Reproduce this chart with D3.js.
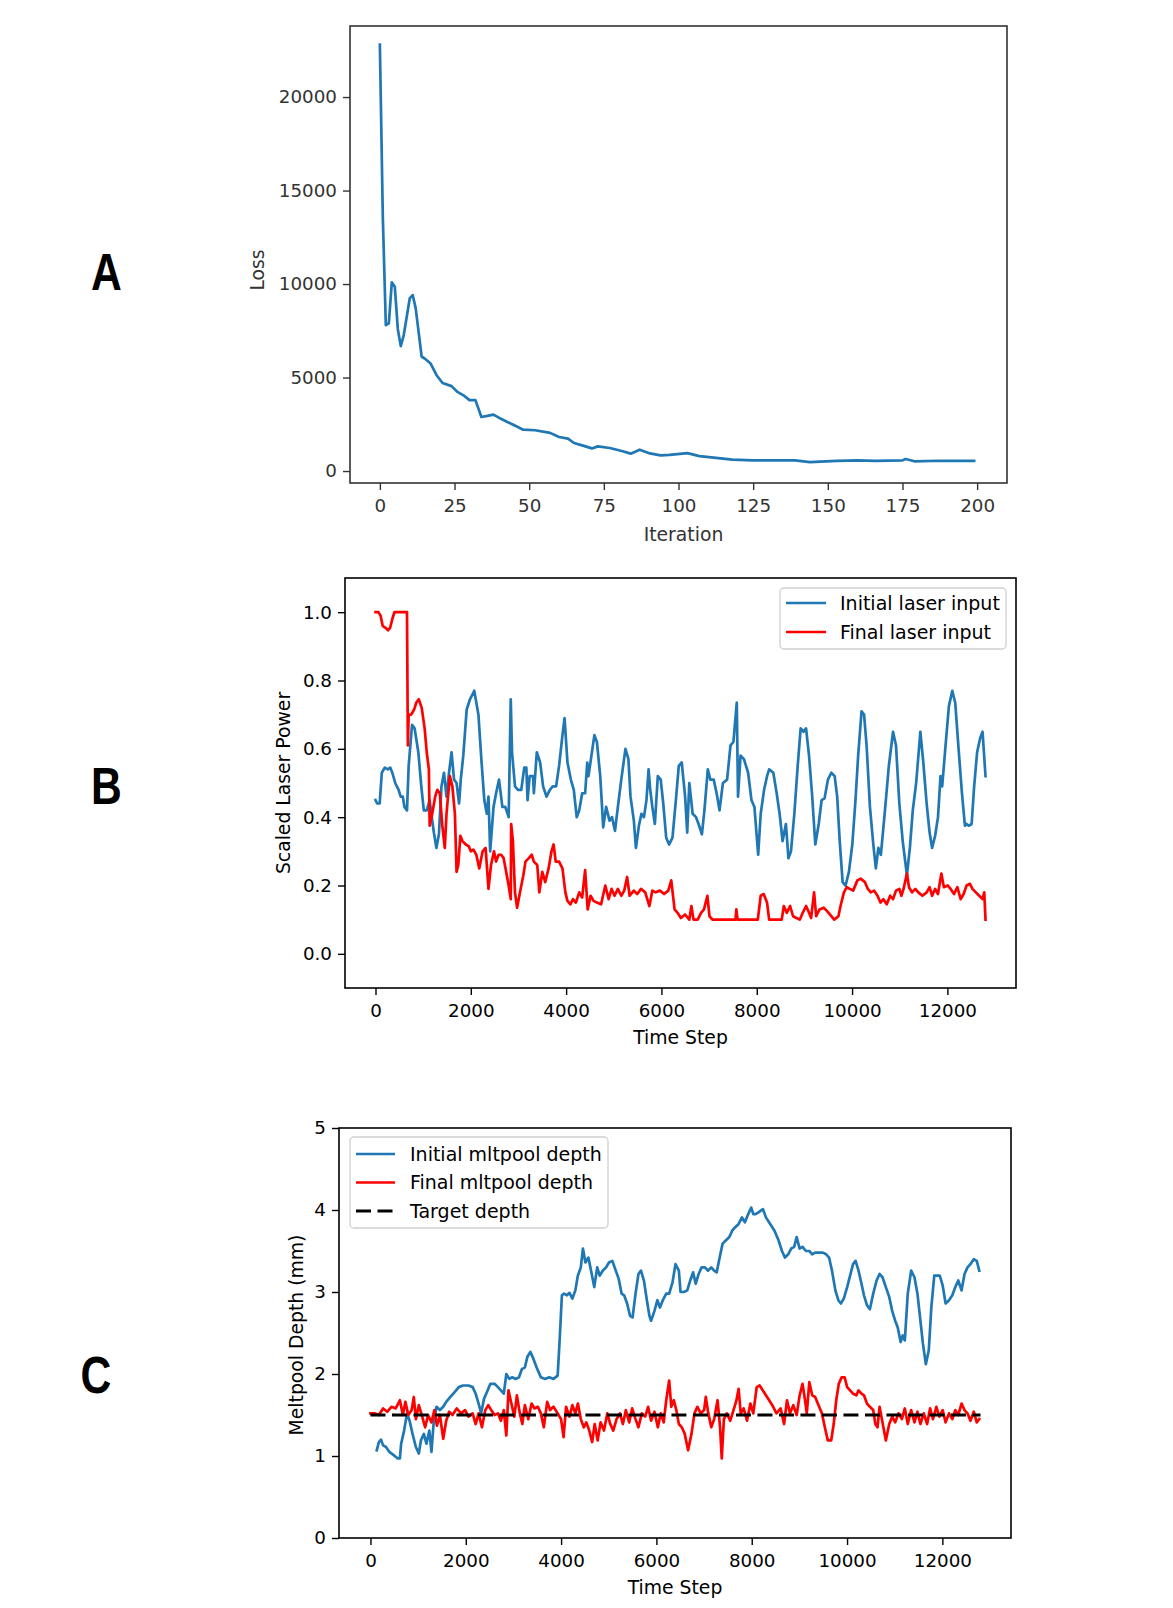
<!DOCTYPE html>
<html><head><meta charset="utf-8">
<script src="https://cdn.jsdelivr.net/npm/d3@7"></script>
<style>html,body{margin:0;padding:0;background:#fff;}svg{display:block;}</style>
</head><body><svg id="fig" width="1173" height="1608"></svg>
<script>
// ---------- DATA ----------
const lossIter = [0,1,2,3,4,5,6,7,8,10,11,12,14,15,17,19,21,24,26,28,30,32,34,36,38,40,45,48,52,57,60,63,65,68,71,73,77,81,84,87,90,94,97,103,107,111,118,125,132,139,144,153,160,166,175,176,179,187,194,199];
const lossVals = [22800,13500,7800,7900,10090,9860,7600,6680,7270,9230,9410,8700,6110,6020,5750,5125,4710,4540,4230,4050,3790,3790,2890,2950,3020,2840,2450,2210,2180,2040,1820,1730,1500,1360,1210,1320,1230,1070,930,1140,960,840,860,960,800,730,610,570,570,570,480,540,570,540,570,640,520,550,540,540];
const lossXTicks = [0,25,50,75,100,125,150,175,200];
const lossYTicks = [0,5000,10000,15000,20000];

const bInitT = [0,35,88,132,194,256,309,353,414,485,529,573,608,661,696,767,820,899,961,1014,1075,1137,1190,1225,1278,1331,1384,1437,1490,1543,1596,1648,1701,1754,1789,1842,1913,1983,2072,2160,2221,2283,2336,2371,2406,2477,2530,2592,2662,2724,2794,2838,2865,2927,2988,3059,3121,3165,3191,3235,3306,3323,3385,3455,3517,3588,3658,3720,3790,3852,3923,3967,4028,4099,4161,4222,4275,4337,4399,4443,4469,4531,4593,4646,4716,4778,4839,4910,4963,5025,5086,5157,5245,5307,5351,5421,5465,5527,5580,5633,5686,5730,5765,5809,5862,5924,5985,6038,6100,6162,6232,6303,6364,6426,6497,6541,6585,6655,6726,6779,6849,6902,6973,7026,7096,7158,7219,7290,7378,7449,7510,7581,7607,7660,7731,7819,7889,7951,8030,8083,8154,8216,8260,8348,8418,8480,8542,8612,8665,8718,8789,8859,8921,8983,9035,9097,9159,9229,9300,9361,9423,9494,9564,9635,9688,9741,9802,9864,9934,10005,10067,10128,10199,10252,10305,10375,10446,10499,10552,10604,10684,10772,10860,10922,10992,11063,11151,11213,11274,11345,11433,11495,11565,11627,11680,11742,11803,11856,11891,11962,12032,12103,12165,12235,12306,12368,12403,12447,12509,12562,12624,12686,12738,12800];
const bInitV = [0.45,0.44,0.44,0.53,0.545,0.54,0.545,0.53,0.50,0.48,0.46,0.46,0.43,0.42,0.55,0.67,0.66,0.59,0.49,0.42,0.42,0.45,0.39,0.355,0.31,0.35,0.49,0.53,0.46,0.53,0.59,0.51,0.50,0.44,0.51,0.58,0.715,0.745,0.77,0.70,0.57,0.45,0.41,0.46,0.30,0.43,0.47,0.51,0.43,0.43,0.40,0.745,0.59,0.49,0.48,0.48,0.545,0.545,0.45,0.52,0.52,0.47,0.59,0.56,0.49,0.46,0.48,0.49,0.49,0.55,0.64,0.69,0.56,0.51,0.48,0.40,0.42,0.47,0.47,0.56,0.52,0.58,0.64,0.62,0.52,0.37,0.43,0.39,0.40,0.36,0.43,0.51,0.60,0.57,0.46,0.39,0.31,0.375,0.41,0.40,0.45,0.54,0.48,0.43,0.38,0.52,0.51,0.44,0.34,0.32,0.34,0.45,0.55,0.56,0.46,0.355,0.50,0.41,0.40,0.38,0.35,0.42,0.54,0.51,0.51,0.47,0.42,0.50,0.51,0.61,0.62,0.735,0.46,0.58,0.57,0.53,0.45,0.43,0.29,0.41,0.48,0.52,0.54,0.53,0.47,0.41,0.33,0.38,0.28,0.30,0.41,0.55,0.66,0.65,0.66,0.58,0.47,0.32,0.38,0.45,0.455,0.51,0.53,0.52,0.46,0.33,0.21,0.20,0.24,0.32,0.44,0.58,0.71,0.70,0.61,0.43,0.32,0.25,0.31,0.29,0.41,0.55,0.65,0.61,0.44,0.33,0.23,0.31,0.42,0.50,0.65,0.56,0.44,0.355,0.31,0.345,0.40,0.52,0.49,0.61,0.725,0.77,0.735,0.60,0.47,0.375,0.38,0.375,0.38,0.49,0.59,0.63,0.65,0.52];
const bFinalT = [0,62,106,150,203,264,309,353,397,661,679,696,749,811,855,908,970,1031,1075,1120,1137,1190,1252,1296,1349,1402,1454,1490,1560,1613,1666,1701,1737,1781,1825,1895,1957,2001,2054,2116,2177,2248,2310,2371,2424,2486,2530,2583,2636,2689,2741,2794,2838,2847,2883,2927,2971,3032,3103,3147,3217,3279,3323,3394,3438,3500,3561,3632,3693,3737,3782,3852,3923,3984,4028,4090,4143,4205,4275,4337,4399,4452,4513,4575,4646,4734,4822,4892,4954,5016,5086,5157,5219,5280,5333,5421,5492,5571,5659,5747,5809,5880,5968,6056,6144,6206,6276,6338,6409,6497,6585,6629,6673,6761,6832,6893,6964,7008,7070,7554,7572,7598,8022,8083,8145,8216,8260,8524,8568,8630,8700,8762,8833,8903,8965,9035,9097,9141,9203,9247,9317,9405,9476,9538,9626,9714,9758,9829,9890,9952,10023,10111,10181,10269,10331,10393,10463,10534,10596,10657,10728,10799,10860,10922,10992,11036,11080,11151,11195,11257,11327,11389,11477,11565,11627,11680,11742,11803,11874,11927,12006,12068,12139,12209,12279,12341,12403,12474,12527,12597,12668,12738,12774,12800];
const bFinalV = [1.0,1.0,0.99,0.96,0.955,0.947,0.955,0.98,1.0,1.0,0.61,0.70,0.70,0.715,0.735,0.745,0.72,0.66,0.59,0.54,0.375,0.41,0.46,0.48,0.47,0.375,0.31,0.41,0.52,0.49,0.41,0.24,0.26,0.345,0.33,0.32,0.315,0.30,0.305,0.29,0.25,0.30,0.31,0.19,0.26,0.30,0.27,0.29,0.29,0.28,0.24,0.20,0.16,0.38,0.33,0.18,0.135,0.18,0.23,0.27,0.28,0.29,0.27,0.26,0.18,0.24,0.21,0.25,0.30,0.32,0.27,0.27,0.25,0.18,0.155,0.145,0.16,0.15,0.18,0.165,0.245,0.13,0.17,0.155,0.15,0.145,0.20,0.16,0.19,0.17,0.19,0.17,0.185,0.225,0.17,0.185,0.175,0.19,0.18,0.14,0.185,0.18,0.185,0.175,0.185,0.215,0.13,0.12,0.105,0.115,0.10,0.14,0.10,0.10,0.12,0.13,0.17,0.11,0.10,0.10,0.13,0.10,0.10,0.17,0.175,0.15,0.10,0.10,0.14,0.12,0.14,0.11,0.105,0.10,0.12,0.14,0.12,0.105,0.18,0.11,0.13,0.135,0.125,0.115,0.10,0.11,0.14,0.18,0.195,0.19,0.185,0.215,0.22,0.21,0.19,0.18,0.185,0.17,0.15,0.16,0.145,0.17,0.16,0.185,0.19,0.17,0.19,0.235,0.195,0.18,0.19,0.18,0.17,0.18,0.195,0.17,0.19,0.175,0.235,0.195,0.20,0.19,0.175,0.195,0.16,0.175,0.20,0.205,0.19,0.18,0.17,0.16,0.18,0.10];
const bXTicks = [0,2000,4000,6000,8000,10000,12000];
const bYTicks = [0.0,0.2,0.4,0.6,0.8,1.0];

const cInitT = [132,177,221,265,327,397,486,574,618,644,706,768,821,883,953,1015,1059,1121,1174,1236,1280,1324,1386,1457,1527,1589,1677,1766,1854,1942,2057,2145,2207,2269,2322,2384,2445,2516,2604,2675,2737,2798,2851,2913,2975,3046,3116,3178,3240,3293,3355,3416,3487,3575,3664,3752,3840,3928,3973,4017,4061,4123,4176,4237,4299,4352,4414,4458,4511,4573,4635,4696,4758,4811,4873,4944,5005,5076,5147,5209,5270,5323,5385,5447,5500,5562,5623,5676,5738,5800,5853,5888,5959,6021,6074,6135,6206,6268,6339,6400,6471,6506,6577,6647,6709,6771,6824,6886,6948,7018,7080,7151,7212,7265,7327,7389,7460,7530,7592,7654,7725,7795,7857,7927,7989,8033,8078,8139,8184,8236,8298,8387,8475,8563,8634,8696,8766,8828,8890,8943,9005,9066,9137,9208,9269,9331,9402,9490,9561,9623,9684,9755,9817,9870,9932,10002,10064,10126,10179,10241,10303,10355,10417,10479,10549,10620,10682,10744,10814,10885,10947,11009,11062,11124,11168,11212,11274,11345,11415,11477,11539,11592,11653,11715,11768,11830,11892,11945,12006,12068,12139,12209,12271,12333,12403,12465,12527,12589,12659,12721,12774];
const cInitV = [1.07,1.17,1.20,1.13,1.11,1.05,1.01,0.97,0.97,1.15,1.31,1.52,1.43,1.27,1.11,1.03,1.19,1.27,1.15,1.31,1.05,1.39,1.60,1.56,1.60,1.66,1.72,1.78,1.84,1.86,1.86,1.84,1.76,1.64,1.52,1.70,1.78,1.88,1.88,1.84,1.80,1.76,2.00,1.94,1.96,1.94,1.96,2.06,2.08,2.21,2.27,2.19,2.08,1.96,1.94,1.96,1.94,1.98,2.45,2.96,2.98,2.96,2.99,2.92,3.02,3.20,3.30,3.53,3.36,3.42,3.24,3.06,3.30,3.20,3.26,3.30,3.36,3.38,3.26,3.16,2.98,2.96,2.86,2.71,2.69,2.98,3.22,3.26,3.14,2.90,2.71,2.65,2.77,2.90,2.81,2.90,2.98,2.98,3.12,3.34,3.26,3.00,3.00,3.02,3.14,3.24,3.10,3.22,3.30,3.30,3.26,3.30,3.26,3.24,3.42,3.59,3.63,3.67,3.75,3.79,3.83,3.91,3.85,3.95,4.03,3.95,3.95,3.97,3.99,4.01,3.91,3.83,3.75,3.63,3.50,3.42,3.46,3.53,3.55,3.67,3.53,3.55,3.50,3.50,3.46,3.48,3.48,3.48,3.46,3.42,3.26,3.02,2.90,2.86,2.92,3.06,3.20,3.34,3.38,3.26,3.10,2.96,2.84,2.79,2.98,3.14,3.22,3.18,3.06,2.94,2.77,2.65,2.57,2.39,2.47,2.41,2.98,3.26,3.18,2.98,2.65,2.37,2.12,2.29,2.81,3.20,3.20,3.20,3.08,2.86,2.90,2.96,3.06,3.14,3.02,3.22,3.30,3.34,3.40,3.38,3.26];
const cFinalT = [0,88,177,265,353,441,530,618,680,733,795,865,909,953,1015,1086,1148,1209,1280,1342,1395,1457,1527,1589,1651,1721,1810,1898,1986,2057,2145,2207,2269,2339,2410,2472,2534,2604,2675,2737,2798,2851,2896,2957,3019,3072,3134,3187,3240,3311,3381,3443,3514,3575,3637,3708,3770,3840,3928,3999,4052,4105,4176,4237,4299,4352,4414,4476,4529,4591,4652,4705,4767,4829,4900,4970,5032,5094,5164,5235,5297,5359,5429,5491,5562,5623,5694,5765,5826,5888,5959,6030,6091,6153,6206,6268,6312,6365,6418,6471,6533,6594,6665,6736,6798,6859,6930,7001,7036,7089,7151,7212,7283,7336,7371,7416,7477,7548,7618,7680,7725,7769,7830,7901,7972,8033,8104,8166,8254,8342,8431,8519,8607,8678,8740,8802,8872,8943,9005,9066,9119,9155,9208,9269,9331,9402,9472,9534,9596,9667,9720,9773,9826,9887,9949,10002,10064,10126,10196,10241,10303,10355,10417,10479,10549,10594,10638,10682,10744,10814,10885,10947,11009,11080,11150,11212,11274,11345,11415,11477,11539,11610,11680,11742,11803,11874,11936,12006,12068,12139,12209,12271,12333,12403,12465,12527,12589,12659,12721,12774];
const cFinalV = [1.52,1.52,1.50,1.58,1.54,1.60,1.58,1.68,1.50,1.66,1.50,1.56,1.72,1.45,1.62,1.48,1.35,1.50,1.41,1.56,1.37,1.50,1.21,1.43,1.54,1.50,1.58,1.52,1.56,1.48,1.52,1.39,1.52,1.35,1.56,1.62,1.56,1.50,1.52,1.43,1.56,1.25,1.80,1.64,1.48,1.74,1.52,1.39,1.62,1.45,1.64,1.58,1.60,1.52,1.35,1.66,1.56,1.60,1.52,1.45,1.23,1.60,1.48,1.62,1.52,1.64,1.45,1.35,1.41,1.31,1.17,1.39,1.19,1.41,1.31,1.52,1.39,1.31,1.45,1.52,1.39,1.56,1.41,1.58,1.45,1.35,1.52,1.48,1.60,1.43,1.54,1.35,1.52,1.41,1.68,1.92,1.60,1.68,1.56,1.39,1.35,1.27,1.07,1.27,1.52,1.60,1.52,1.56,1.72,1.52,1.35,1.45,1.68,1.35,0.97,1.45,1.52,1.43,1.56,1.68,1.82,1.52,1.58,1.43,1.64,1.52,1.84,1.86,1.78,1.70,1.62,1.52,1.58,1.39,1.68,1.52,1.62,1.50,1.74,1.88,1.68,1.52,1.90,1.74,1.72,1.62,1.52,1.35,1.19,1.19,1.39,1.68,1.88,1.96,1.96,1.84,1.80,1.76,1.74,1.80,1.76,1.74,1.64,1.60,1.56,1.39,1.35,1.60,1.41,1.19,1.39,1.48,1.41,1.52,1.45,1.58,1.39,1.56,1.41,1.54,1.39,1.52,1.39,1.58,1.45,1.60,1.48,1.56,1.41,1.52,1.45,1.56,1.50,1.64,1.56,1.52,1.43,1.54,1.41,1.45];
const targetT = [0,12800];
const targetV = [1.5,1.5];
const cXTicks = [0,2000,4000,6000,8000,10000,12000];
const cYTicks = [0,1,2,3,4,5];

const bLegend = ["Initial laser input","Final laser input"];
const cLegend = ["Initial mltpool depth","Final mltpool depth","Target depth"];
const panelLetters = ["A","B","C"];

// ---------- DRAW ----------
const svg = d3.select("#fig");
const BLUE = "#1f77b4", RED = "#ff0000";
const FONT = "'DejaVu Sans', sans-serif";
const FS_TICK = 18.3, FS_LAB = 18.8, FS_LEG = 19;
const DASH = "15,6.5";

function panel(cfg){
  const x = d3.scaleLinear().domain(cfg.xd).range([cfg.l, cfg.r]);
  const y = d3.scaleLinear().domain(cfg.yd).range([cfg.b, cfg.t]);
  const g = svg.append("g");
  const col = cfg.ink;
  const xa = g.append("g").attr("transform",`translate(0,${cfg.b})`)
    .call(d3.axisBottom(x).tickValues(cfg.xt).tickFormat(d3.format("d")).tickSize(7).tickSizeOuter(0).tickPadding(9));
  const ya = g.append("g").attr("transform",`translate(${cfg.l},0)`)
    .call(d3.axisLeft(y).tickValues(cfg.yt).tickFormat(cfg.yf).tickSize(7).tickSizeOuter(0).tickPadding(6));
  [xa,ya].forEach(a=>{
    a.select(".domain").remove();
    a.selectAll("line").attr("stroke",col).attr("stroke-width",1.4);
    a.selectAll("text").attr("fill",col).style("font-family",FONT).style("font-size",FS_TICK+"px");
  });
  const pl = g.append("g");
  cfg.series.forEach(s=>{
    const pts = s.t.map((t,i)=>[t,s.v[i]]);
    pl.append("path").datum(pts)
      .attr("fill","none").attr("stroke",s.c).attr("stroke-width",s.w||2.7)
      .attr("stroke-linejoin","round").attr("stroke-linecap", s.dash? "butt":"square")
      .attr("stroke-dasharray", s.dash||null)
      .attr("d", d3.line().x(d=>x(d[0])).y(d=>y(d[1])));
  });
  g.append("rect").attr("x",cfg.l).attr("y",cfg.t).attr("width",cfg.r-cfg.l).attr("height",cfg.b-cfg.t)
    .attr("fill","none").attr("stroke",col).attr("stroke-width",1.6);
  g.append("text").attr("x",(cfg.l+cfg.r)/2 + (cfg.xlo||0)).attr("y",cfg.xly).attr("text-anchor","middle")
    .attr("fill",col).style("font-family",FONT).style("font-size",FS_LAB+"px").text(cfg.xl);
  g.append("text").attr("transform",`translate(${cfg.ylx},${cfg.ylc}) rotate(-90)`).attr("text-anchor","middle")
    .attr("dy","0.35em").attr("fill",col).style("font-family",FONT).style("font-size",FS_LAB+"px").text(cfg.yl);
  if(cfg.legend){
    const L = cfg.legend;
    g.append("rect").attr("x",L.x).attr("y",L.y).attr("width",L.w).attr("height",L.h).attr("rx",4)
      .attr("fill","#fff").attr("fill-opacity",0.8).attr("stroke","#d0d0d0").attr("stroke-width",1.3);
    L.items.forEach((it,i)=>{
      const yy = L.y0 + i*L.dy;
      g.append("line").attr("x1",L.lx1).attr("x2",L.lx2).attr("y1",yy).attr("y2",yy)
        .attr("stroke",it.c).attr("stroke-width",it.w||2.7).attr("stroke-dasharray",it.dash||null);
      g.append("text").attr("x",L.tx).attr("y",yy).attr("dy","0.35em").attr("fill","#000")
        .style("font-family",FONT).style("font-size",FS_LEG+"px").text(it.label);
    });
  }
}

panel({l:350,r:1007,t:26,b:483,xd:[-10,210],yd:[-640,23800],xt:lossXTicks,yt:lossYTicks,
  yf:d3.format("d"),ink:"#333",xl:"Iteration",xly:541,xlo:5,yl:"Loss",ylx:257,ylc:270,
  series:[{t:lossIter,v:lossVals,c:BLUE}]});

panel({l:345,r:1016,t:578,b:988,xd:[-640,13440],yd:[-0.1,1.1],xt:bXTicks,yt:bYTicks,
  yf:d3.format(".1f"),ink:"#000",xl:"Time Step",xly:1044,yl:"Scaled Laser Power",ylx:283,ylc:783,
  series:[{t:bInitT,v:bInitV,c:BLUE},{t:bFinalT,v:bFinalV,c:RED}],
  legend:{x:780,y:588,w:226,h:61,y0:603,dy:29,lx1:786,lx2:826,tx:840,
    items:[{label:bLegend[0],c:BLUE},{label:bLegend[1],c:RED}]}});

panel({l:339,r:1011,t:1128,b:1538,xd:[-660,13440],yd:[0,5],xt:cXTicks,yt:cYTicks,
  yf:d3.format("d"),ink:"#000",xl:"Time Step",xly:1594,yl:"Meltpool Depth (mm)",ylx:296,ylc:1335,
  series:[{t:cInitT,v:cInitV,c:BLUE},{t:cFinalT,v:cFinalV,c:RED},{t:targetT,v:targetV,c:"#000",w:3.2,dash:DASH}],
  legend:{x:350,y:1137,w:258,h:91,y0:1154,dy:28.5,lx1:356,lx2:395,tx:410,
    items:[{label:cLegend[0],c:BLUE},{label:cLegend[1],c:RED},{label:cLegend[2],c:"#000",w:3.2,dash:DASH}]}});

// panel letters
const letterPos = [[106.5,271],[106.5,785.5],[96,1374]];
panelLetters.forEach((L,i)=>{
  svg.append("text").attr("transform",`translate(${letterPos[i][0]},${letterPos[i][1]+18.5}) scale(0.82,1)`)
    .attr("text-anchor","middle").attr("fill","#000")
    .style("font-family","'Liberation Sans', Arial, sans-serif").style("font-weight","bold").style("font-size","52px").text(L);
});
</script></body></html>
